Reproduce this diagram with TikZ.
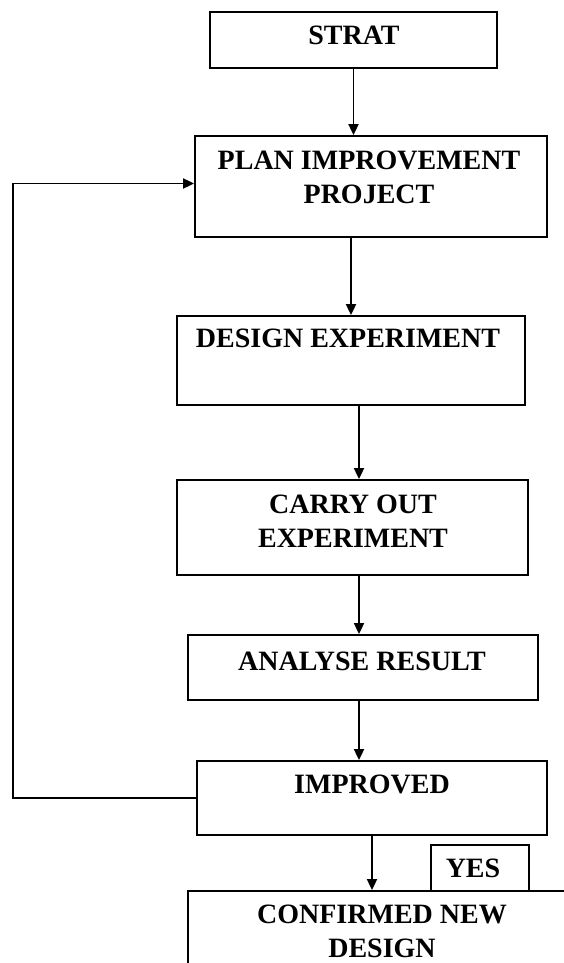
\documentclass[tikz,border=0pt]{standalone}
\usepackage{fontspec}
\setmainfont{Liberation Serif}
\usetikzlibrary{arrows.meta}

\begin{document}
\begin{tikzpicture}[x=1pt,y=-1pt,
        blok/.style={draw,line width=1.8pt,inner sep=0pt},
        lbl/.style={font=\fontsize{28}{34}\selectfont\bfseries,align=center,anchor=base,inner sep=0pt},
        arr/.style={line width=1.8pt,-{Triangle[length=11pt,width=10pt]}}]
        \useasboundingbox (0,0) rectangle (564,963);
        \clip (0,0) rectangle (564,963);

        % boxes
        \node[blok,minimum width=287pt,minimum height=56pt] (strat) at (353.5,40) {};
        \node[blok,minimum width=352pt,minimum height=101pt] (plan) at (371,186.5) {};
        \node[blok,minimum width=348pt,minimum height=89pt] (design) at (351,360.5) {};
        \node[blok,minimum width=351pt,minimum height=95pt] (carry) at (352.5,527.5) {};
        \node[blok,minimum width=350pt,minimum height=65pt] (analyse) at (363,667.5) {};
        \node[blok,minimum width=350pt,minimum height=74pt] (improved) at (372,798) {};
        \node[blok,minimum width=432pt,minimum height=119pt] (confirmed) at (404,950.5) {};
        \node[blok,minimum width=98pt,minimum height=46pt] (yes) at (480,868) {};

        % texts (base = last line)
        \node[lbl] (strat-t) at (354,45) {STRAT};
        \node[lbl] (plan-t) at (369,203) {PLAN IMPROVEMENT\\PROJECT};
        \node[lbl] (design-t) at (348,347) {DESIGN EXPERIMENT};
        \node[lbl] (carry-t) at (353,547) {CARRY OUT\\EXPERIMENT};
        \node[lbl] (analyse-t) at (362,670) {ANALYSE RESULT};
        \node[lbl] (improved-t) at (372,793) {IMPROVED};
        \node[lbl] (yes-t) at (473,877) {YES};
        \node[lbl] (confirmed-t) at (382,957) {CONFIRMED NEW\\DESIGN};

        \coordinate (col) at (359,0);
        \coordinate (back) at (13,0);

        % arrows
        \draw[arr] (strat.south) -- (strat.south |- plan.north);
        \draw[arr] (design.north |- plan.south) -- (design.north);
        \draw[arr] (col |- design.south) -- (col |- carry.north);
        \draw[arr] (col |- carry.south) -- (col |- analyse.north);
        \draw[arr] (col |- analyse.south) -- (col |- improved.north);
        \draw[arr] (improved.south) -- (improved.south |- confirmed.north);
        \draw[arr] (improved.west) -- (improved.west -| back) |- ([yshift=3pt]plan.west);
    \end{tikzpicture}
\end{document}
